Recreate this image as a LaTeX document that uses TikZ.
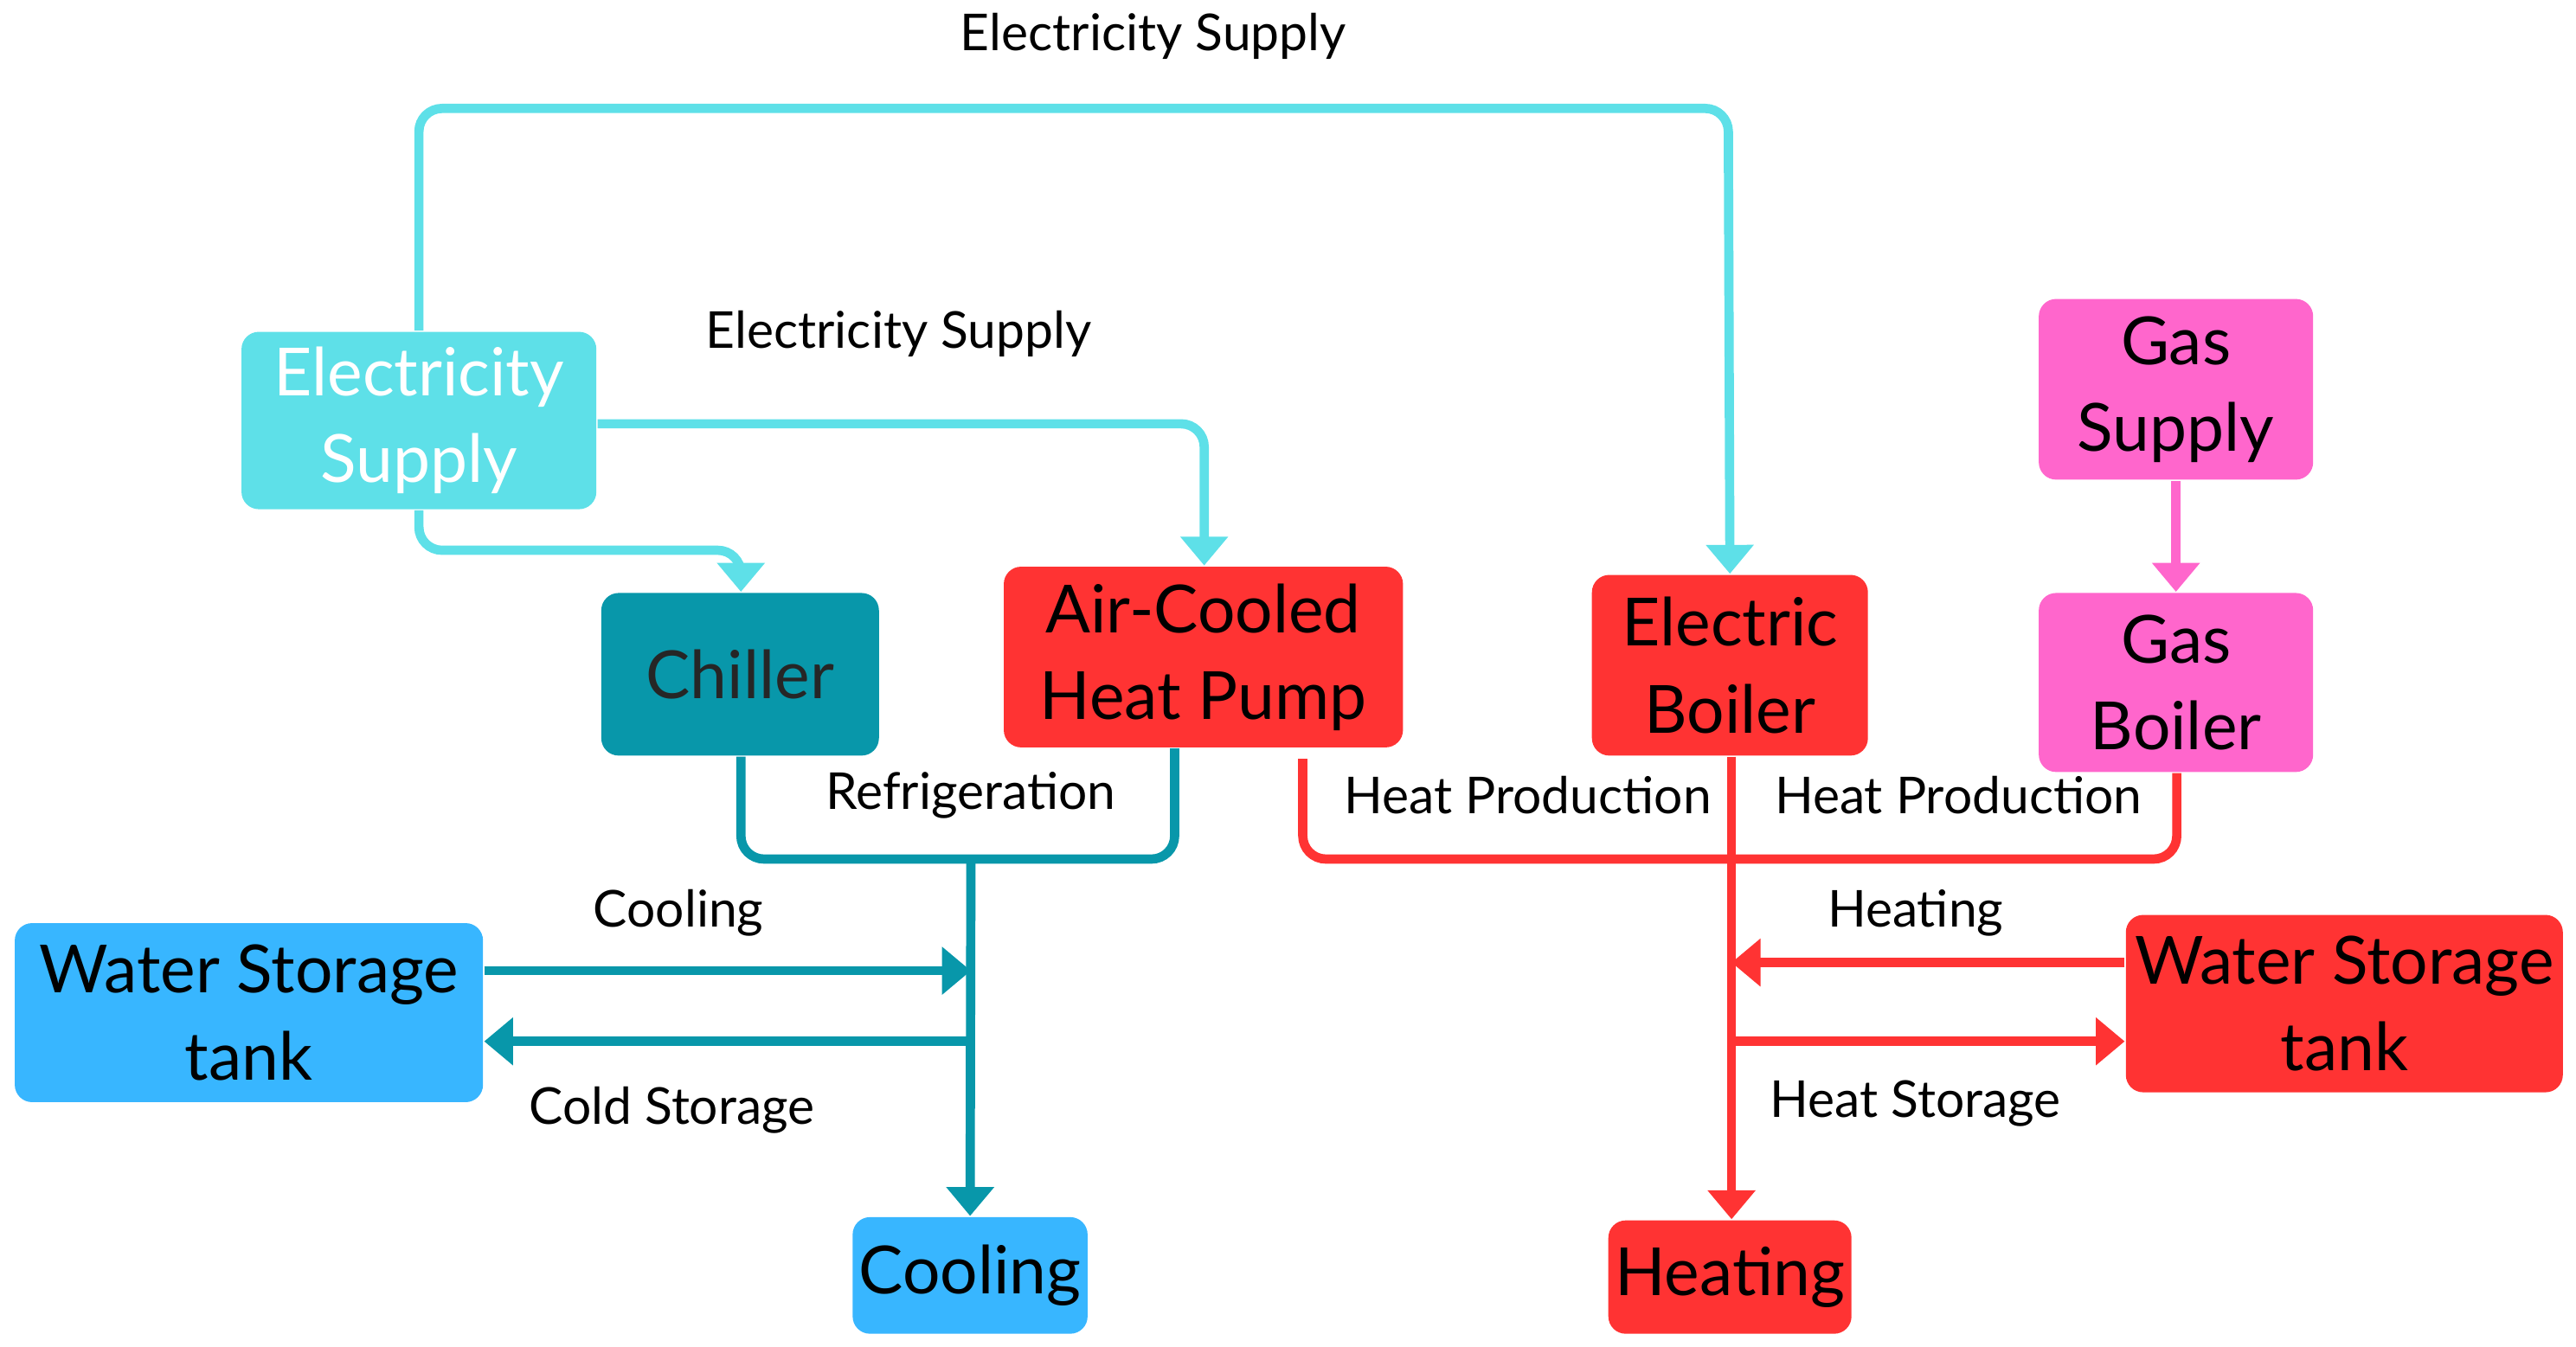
\documentclass[tikz,border=0pt]{standalone}
\usepackage{fontspec}
\setmainfont{Lato}
\usetikzlibrary{arrows.meta}
\definecolor{cy}{HTML}{5EE0E8}
\definecolor{tl}{HTML}{0897AA}
\definecolor{rd}{HTML}{FF3333}
\definecolor{pk}{HTML}{FF66CC}
\definecolor{bl}{HTML}{38B6FF}
\begin{document}
\begin{tikzpicture}[x=0.01cm,y=-0.01cm,
 box/.style={rounded corners=3pt,inner sep=0pt,align=center,font=\fontsize{11.5}{15}\selectfont},
 lbl/.style={font=\fontsize{8.8}{10}\selectfont},
 ln/.style={line width=1.6pt,rounded corners=4pt,-{Triangle[length=5pt,width=8pt]}},
 pl/.style={line width=1.6pt,rounded corners=4pt}]
\useasboundingbox (0,0) rectangle (1568,820);
\newcommand{\bx}[6]{\node[box,fill=#5,text=#6,minimum width={(#3-#1)*0.01cm},minimum height={(#4-#2)*0.01cm}] at ({(#1+#3)/2},{(#2+#4)/2})}
\bx{147}{202}{363}{310}{cy}{white} (es) {Electricity\\Supply};
\bx{366}{361}{535}{460}{tl}{black!85} (ch) {Chiller};
\bx{611}{345}{854}{455}{rd}{black} (hp) {Air-Cooled\\Heat Pump};
\bx{969}{350}{1137}{460}{rd}{black} (eb) {Electric\\Boiler};
\bx{1241}{182}{1408}{292}{pk}{black} (gs) {Gas\\Supply};
\bx{1241}{361}{1408}{470}{pk}{black} (gb) {Gas\\Boiler};
\bx{9}{562}{294}{671}{bl}{black} (wl) {Water Storage\\tank};
\bx{519}{741}{662}{812}{bl}{black} (co) {Cooling};
\bx{979}{743}{1127}{812}{rd}{black} (he) {Heating};
\bx{1294}{557}{1560}{665}{rd}{black} (wr) {Water Storage\\tank};
% cyan
\draw[ln,cy] (es.north) -- (255,66) -- (1052,66) -- (eb.north);
\draw[ln,cy] (es.east|-0,258) -- (733,258) -- (hp.north-|733,0);
\draw[ln,cy] (es.south) -- (255,335) -- (451,335) -- (ch.north-|451,0);
% teal
\coordinate (tj) at (591,523);
\draw[pl,tl] (ch.south-|451,0) -- (451,523) -- (715,523) -- (hp.south-|715,0);
\draw[ln,tl,rounded corners=0pt] (tj) -- (co.north);
\draw[ln,tl] (wl.east|-0,591) -- (591,591);
\draw[ln,tl] (591,634) -- (wl.east|-0,634);
% red
\coordinate (rj) at (1054,523);
\draw[pl,rd] (793,462) -- (793,523) -- (1325,523) -- (gb.south-|1325,0);
\draw[ln,rd,rounded corners=0pt] (eb.south-|1054,0) -- (he.north-|1054,0);
\draw[ln,rd] (wr.west|-0,586) -- (1054,586);
\draw[ln,rd] (1054,634) -- (wr.west|-0,634);
% pink
\draw[ln,pk] (gs.south) -- (gb.north);
% labels
\node[lbl] at (702,22) {Electricity Supply};
\node[lbl] at (547,203) {Electricity Supply};
\node[lbl] at (591,484) {Refrigeration};
\node[lbl] at (413,556) {Cooling};
\node[lbl] at (409,676) {Cold Storage};
\node[lbl] at (930,484) {Heat Production};
\node[lbl] at (1192,484) {Heat Production};
\node[lbl] at (1166,556) {Heating};
\node[lbl] at (1166,672) {Heat Storage};
\end{tikzpicture}
\end{document}
